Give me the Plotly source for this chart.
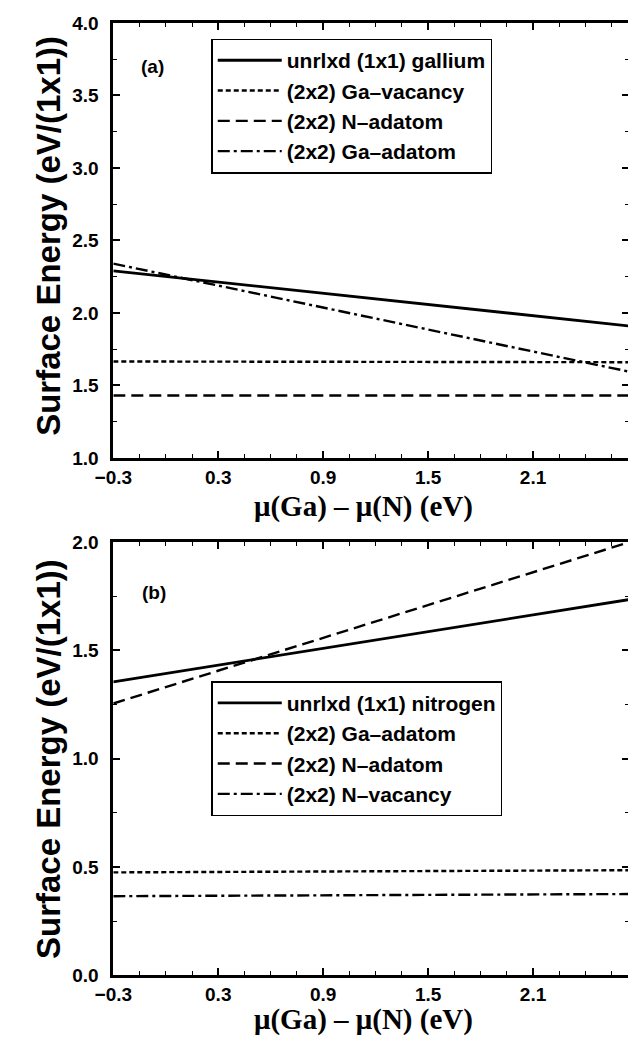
import plotly.graph_objects as go

# window size and the browser's default 8px body margin around the plot div
WIN_W, WIN_H = 636, 1046
OFF = 8
W, H = WIN_W - OFF, WIN_H - OFF

# ---------------- data ----------------
x_ends = [-0.3, 2.65]
x_tickvals = [-0.3, 0.3, 0.9, 1.5, 2.1]
x_ticktext = ["\u22120.3", "0.3", "0.9", "1.5", "2.1"]

a_names = ["unrlxd (1x1) gallium", "(2x2) Ga\u2013vacancy", "(2x2) N\u2013adatom", "(2x2) Ga\u2013adatom"]
a_left = [2.29, 1.665, 1.43, 2.34]
a_right = [1.91, 1.66, 1.43, 1.595]

b_names = ["unrlxd (1x1) nitrogen", "(2x2) Ga\u2013adatom", "(2x2) N\u2013adatom", "(2x2) N\u2013vacancy"]
b_left = [1.355, 0.475, 1.255, 0.365]
b_right = [1.735, 0.485, 2.0, 0.375]

a_yticks = [1.0, 1.5, 2.0, 2.5, 3.0, 3.5, 4.0]
b_yticks = [0.0, 0.5, 1.0, 1.5, 2.0]

# ---------------- styles ----------------
styles = [
    dict(dash="solid", width=2.8),
    dict(dash="5px,3px", width=2.4),
    dict(dash="12px,6px", width=2.4),
    dict(dash="12px,4px,3px,4px", width=2.4),
]

fig = go.Figure()
for i in range(4):
    fig.add_trace(go.Scatter(
        x=x_ends, y=[a_left[i], a_right[i]], mode="lines", name=a_names[i],
        line=dict(color="black", **styles[i]), xaxis="x", yaxis="y", legend="legend"))
for i in range(4):
    fig.add_trace(go.Scatter(
        x=x_ends, y=[b_left[i], b_right[i]], mode="lines", name=b_names[i],
        line=dict(color="black", **styles[i]), xaxis="x2", yaxis="y2", legend="legend2"))


def px(xp):
    return (xp - OFF) / W


def py(yp):
    return 1 - (yp - OFF) / H


tickfont = dict(family="Liberation Sans", size=19, color="black", weight="bold")

xax = dict(range=x_ends, tickvals=x_tickvals, ticktext=x_ticktext,
           ticks="inside", ticklen=7, tickwidth=1.5, tickcolor="black",
           minor=dict(dtick=0.15, tick0=-0.3, ticks="inside", ticklen=4, tickwidth=1.2, tickcolor="black"),
           showline=True, linewidth=2.8, linecolor="black", mirror="allticks",
           showgrid=False, zeroline=False, tickfont=tickfont,
           domain=[px(97), px(629)])
yax = dict(ticks="inside", ticklen=7, tickwidth=1.5, tickcolor="black",
           minor=dict(dtick=0.25, ticks="inside", ticklen=4, tickwidth=1.2, tickcolor="black"),
           showline=True, linewidth=2.8, linecolor="black", mirror="allticks",
           showgrid=False, zeroline=False, tickfont=tickfont, tickformat=".1f",
           ticklabelstandoff=8)

legend_font = dict(family="Liberation Sans", size=21, color="black", weight="bold")

fig.update_layout(
    width=W, height=H,
    margin=dict(l=0, r=0, t=0, b=0),
    paper_bgcolor="white", plot_bgcolor="white",
    xaxis=dict(xax, anchor="y"),
    xaxis2=dict(xax, anchor="y2"),
    yaxis=dict(yax, range=[1.0, 4.0], tickvals=a_yticks, anchor="x",
               domain=[py(457), py(13)]),
    yaxis2=dict(yax, range=[0.0, 2.0], tickvals=b_yticks, anchor="x2",
                domain=[py(985), py(543)]),
    legend=dict(x=px(198), y=py(29), xanchor="left", yanchor="top",
                bordercolor="black", borderwidth=1.5, bgcolor="white",
                font=legend_font, itemwidth=64),
    legend2=dict(x=px(198), y=py(685), xanchor="left", yanchor="top",
                 bordercolor="black", borderwidth=1.5, bgcolor="white",
                 font=legend_font, itemwidth=64),
    showlegend=True,
)

ann_font = dict(family="Liberation Sans", size=19, color="black", weight="bold")
ytitle_font = dict(family="Liberation Sans", size=33, color="black", weight="bold")
xtitle_font = dict(family="Liberation Serif", size=29, color="black", weight="bold")


def ann(text, x, y, font, angle=0):
    return dict(text=text, x=px(x), y=py(y), xref="paper", yref="paper",
                xanchor="center", yanchor="middle", showarrow=False,
                textangle=angle, font=font)


annotations = [
    ann("(a)", 137, 57, ann_font),
    ann("(b)", 139, 594, ann_font),
    ann("Surface Energy (eV/(1x1))", 30, 230, ytitle_font, -90),
    ann("Surface Energy (eV/(1x1))", 30, 764, ytitle_font, -90),
    ann("\u03bc(Ga) \u2013 \u03bc(N) (eV)", 355, 507, xtitle_font),
    ann("\u03bc(Ga) \u2013 \u03bc(N) (eV)", 355, 1030, xtitle_font),
]
fig.update_layout(annotations=annotations)

fig.write_html("out.html")
